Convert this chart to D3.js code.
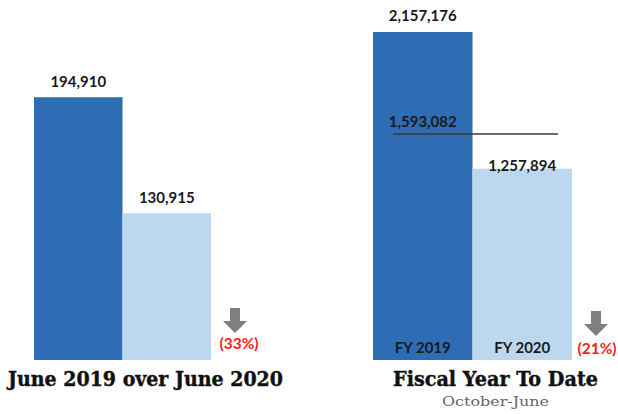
<!DOCTYPE html>
<html>
<head>
<meta charset="utf-8">
<script src="https://cdn.jsdelivr.net/npm/d3@7"></script>
<style>
  html, body { margin: 0; padding: 0; background: #fff; }
  svg { display: block; }
</style>
</head>
<body>
<svg id="chart" width="618" height="414"></svg>
<script>
// ---- data ----
const monthCategories = ["June 2019", "June 2020"];
const monthValues = [194910, 130915];
const monthChange = "(33%)";
const monthTitle = "June 2019 over June 2020";

const fyCategories = ["FY 2019", "FY 2020"];
const fyValues = [2157176, 1257894];
const fyChange = "(21%)";
const fyTitle = "Fiscal Year To Date";
const fySubtitle = "October-June";
// reference line: label text and its position value
const fyRefLineLabel = ["1,593,082"];
const fyRefLineValue = [1486000];

// ---- drawing ----
const svg = d3.select("#chart");
const fmt = d3.format(",");
const DARK = "#2e6db4", LIGHT = "#bdd7ee", ARROW = "#7f7f7f", RED = "#ff1a1a";
const labelFont = "Lato, 'Open Sans', sans-serif";
const slabFont = "'DejaVu Serif', serif";
const baseY = 360;

function arrow(g, cx, top) {
  const p = d3.path();
  p.moveTo(cx - 5, top);
  p.lineTo(cx + 5, top);
  p.lineTo(cx + 5, top + 13);
  p.lineTo(cx + 12, top + 13);
  p.lineTo(cx, top + 25);
  p.lineTo(cx - 12, top + 13);
  p.lineTo(cx - 5, top + 13);
  p.closePath();
  g.append("path").attr("d", p.toString()).attr("fill", ARROW);
}

// Left panel
{
  const g = svg.append("g");
  const x = d3.scaleBand().domain(monthCategories).range([34, 211]).paddingInner(0).paddingOuter(0);
  const y = d3.scaleLinear().domain([50000, 200000]).range([baseY, 88]);
  const data = monthCategories.map((c, i) => ({c, v: monthValues[i], i}));
  g.selectAll("rect").data(data).join("rect")
    .attr("x", d => x(d.c)).attr("width", x.bandwidth())
    .attr("y", d => y(d.v)).attr("height", d => baseY - y(d.v))
    .attr("fill", d => d.i === 0 ? DARK : LIGHT);
  g.selectAll("text.val").data(data).join("text").attr("class", "val")
    .attr("x", d => x(d.c) + x.bandwidth() / 2).attr("y", d => y(d.v) - 10)
    .attr("text-anchor", "middle").attr("font-family", labelFont).attr("font-weight", "bold")
    .attr("font-size", 15).attr("fill", "#1a1a1a").text(d => fmt(d.v));
  arrow(g, 235, 308);
  g.append("text").attr("x", 239).attr("y", 349).attr("text-anchor", "middle")
    .attr("font-family", labelFont).attr("font-weight", "bold").attr("font-size", 15.5)
    .attr("fill", RED).text(monthChange);
  g.append("text").attr("x", 145.5).attr("y", 386).attr("text-anchor", "middle")
    .attr("font-family", slabFont).attr("font-weight", "bold").attr("font-size", 19.5)
    .attr("textLength", 275).attr("lengthAdjust", "spacingAndGlyphs")
    .attr("stroke", "#111").attr("stroke-width", 0.4)
    .attr("fill", "#111").text(monthTitle);
}

// Right panel
{
  const g = svg.append("g");
  const x = d3.scaleBand().domain(fyCategories).range([373, 572]).paddingInner(0).paddingOuter(0);
  const y = d3.scaleLinear().domain([0, 2200000]).range([baseY, 25.5]);
  const data = fyCategories.map((c, i) => ({c, v: fyValues[i], i}));
  g.selectAll("rect").data(data).join("rect")
    .attr("x", d => x(d.c)).attr("width", x.bandwidth())
    .attr("y", d => y(d.v)).attr("height", d => baseY - y(d.v))
    .attr("fill", d => d.i === 0 ? DARK : LIGHT);
  g.selectAll("text.val").data(data).join("text").attr("class", "val")
    .attr("x", d => x(d.c) + x.bandwidth() / 2)
    .attr("y", d => d.i === 0 ? y(d.v) - 11 : y(d.v) + 2)
    .attr("text-anchor", "middle").attr("font-family", labelFont).attr("font-weight", "bold")
    .attr("font-size", 15).attr("fill", "#1a1a1a").text(d => fmt(d.v));
  g.selectAll("text.cat").data(data).join("text").attr("class", "cat")
    .attr("x", d => x(d.c) + x.bandwidth() / 2).attr("y", 353)
    .attr("text-anchor", "middle").attr("font-family", labelFont).attr("font-weight", "bold")
    .attr("font-size", 15).attr("fill", "#1a1a1a").text(d => d.c);
  const ly = y(fyRefLineValue[0]);
  g.append("line").attr("x1", 393).attr("x2", 558).attr("y1", ly).attr("y2", ly)
    .attr("stroke", "#3a3a3a").attr("stroke-width", 1.5);
  g.append("text").attr("x", x(fyCategories[0]) + x.bandwidth() / 2).attr("y", ly - 7)
    .attr("text-anchor", "middle").attr("font-family", labelFont).attr("font-weight", "bold")
    .attr("font-size", 15).attr("fill", "#1a1a1a").text(fyRefLineLabel[0]);
  arrow(g, 596, 311);
  g.append("text").attr("x", 597).attr("y", 354).attr("text-anchor", "middle")
    .attr("font-family", labelFont).attr("font-weight", "bold").attr("font-size", 15.5)
    .attr("fill", RED).text(fyChange);
  g.append("text").attr("x", 495.5).attr("y", 386).attr("text-anchor", "middle")
    .attr("font-family", slabFont).attr("font-weight", "bold").attr("font-size", 19.5)
    .attr("textLength", 205).attr("lengthAdjust", "spacingAndGlyphs")
    .attr("stroke", "#111").attr("stroke-width", 0.4)
    .attr("fill", "#111").text(fyTitle);
  g.append("text").attr("x", 495.5).attr("y", 406).attr("text-anchor", "middle")
    .attr("font-family", slabFont).attr("font-size", 12.5)
    .attr("textLength", 107).attr("lengthAdjust", "spacingAndGlyphs")
    .attr("fill", "#666").text(fySubtitle);
}
</script>
</body>
</html>
